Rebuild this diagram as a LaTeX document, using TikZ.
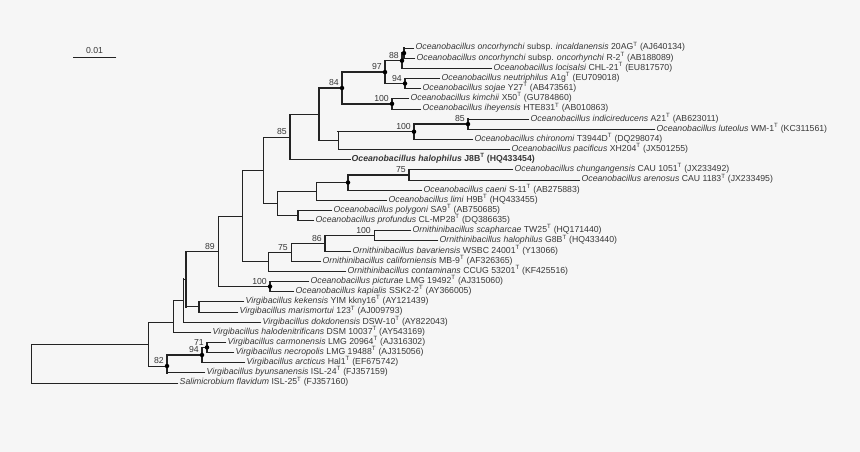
\documentclass[tikz,border=0pt]{standalone}
\usepackage{fontspec}
\setmainfont{Liberation Sans}
\usetikzlibrary{calc}
\definecolor{bgc}{RGB}{246,246,246}
\definecolor{lnc}{RGB}{35,35,35}
\definecolor{txc}{RGB}{55,55,55}
\newcommand{\spT}{\textsuperscript{T}}
\begin{document}
\begin{tikzpicture}[x=1pt,y=-1pt,
  leaf/.style={anchor=west,inner xsep=1.5pt,inner ysep=0pt,text height=6pt,text depth=2pt,font=\fontsize{8.7}{10}\selectfont,text=txc},
  brn/.style={draw=lnc,line width=0.8pt,line cap=rect},
  brk/.style={draw=lnc,line width=1.45pt,line cap=rect},
  bs/.style={anchor=south east,inner sep=0pt,font=\fontsize{8.7}{10}\selectfont,text=txc},
  dotn/.style={circle,fill=black,inner sep=0pt,minimum size=4.5pt}]
\fill[bgc] (0,0) rectangle (860,452);
\path[use as bounding box] (0,0) rectangle (860,452);
% leaves
\node[leaf] (L1) at (414,48.0) {\textit{Oceanobacillus oncorhynchi} subsp. \textit{incaldanensis} 20AG\spT{} (AJ640134)};
\node[leaf] (L2) at (415,58.15) {\textit{Oceanobacillus oncorhynchi} subsp. \textit{oncorhynchi} R-2\spT{} (AB188089)};
\node[leaf] (L3) at (492,68.3) {\textit{Oceanobacillus locisalsi} CHL-21\spT{} (EU817570)};
\node[leaf] (L4) at (440,78.45) {\textit{Oceanobacillus neutriphilus} A1g\spT{} (EU709018)};
\node[leaf] (L5) at (421,88.6) {\textit{Oceanobacillus sojae} Y27\spT{} (AB473561)};
\node[leaf] (L6) at (409,98.75) {\textit{Oceanobacillus kimchii} X50\spT{} (GU784860)};
\node[leaf] (L7) at (421,108.9) {\textit{Oceanobacillus iheyensis} HTE831\spT{} (AB010863)};
\node[leaf] (L8) at (529,119.05) {\textit{Oceanobacillus indicireducens} A21\spT{} (AB623011)};
\node[leaf] (L9) at (655,129.2) {\textit{Oceanobacillus luteolus} WM-1\spT{} (KC311561)};
\node[leaf] (L10) at (473,139.35) {\textit{Oceanobacillus chironomi} T3944D\spT{} (DQ298074)};
\node[leaf] (L11) at (510,149.5) {\textit{Oceanobacillus pacificus} XH204\spT{} (JX501255)};
\node[leaf] (L12) at (350,159.65) {\textbf{\textit{Oceanobacillus halophilus} J8B\spT{} (HQ433454)}};
\node[leaf] (L13) at (513,169.8) {\textit{Oceanobacillus chungangensis} CAU 1051\spT{} (JX233492)};
\node[leaf] (L14) at (580,179.95) {\textit{Oceanobacillus arenosus} CAU 1183\spT{} (JX233495)};
\node[leaf] (L15) at (422,190.1) {\textit{Oceanobacillus caeni} S-11\spT{} (AB275883)};
\node[leaf] (L16) at (387,200.25) {\textit{Oceanobacillus limi} H9B\spT{} (HQ433455)};
\node[leaf] (L17) at (332,210.4) {\textit{Oceanobacillus polygoni} SA9\spT{} (AB750685)};
\node[leaf] (L18) at (314,220.55) {\textit{Oceanobacillus profundus} CL-MP28\spT{} (DQ386635)};
\node[leaf] (L19) at (411,230.7) {\textit{Ornithinibacillus scapharcae} TW25\spT{} (HQ171440)};
\node[leaf] (L20) at (438,240.85) {\textit{Ornithinibacillus halophilus} G8B\spT{} (HQ433440)};
\node[leaf] (L21) at (351,251.0) {\textit{Ornithinibacillus bavariensis} WSBC 24001\spT{} (Y13066)};
\node[leaf] (L22) at (321,261.15) {\textit{Ornithinibacillus californiensis} MB-9\spT{} (AF326365)};
\node[leaf] (L23) at (346,271.3) {\textit{Ornithinibacillus contaminans} CCUG 53201\spT{} (KF425516)};
\node[leaf] (L24) at (309,281.45) {\textit{Oceanobacillus picturae} LMG 19492\spT{} (AJ315060)};
\node[leaf] (L25) at (294,291.6) {\textit{Oceanobacillus kapialis} SSK2-2\spT{} (AY366005)};
\node[leaf] (L26) at (244,301.75) {\textit{Virgibacillus kekensis} YIM kkny16\spT{} (AY121439)};
\node[leaf] (L27) at (238,311.9) {\textit{Virgibacillus marismortui} 123\spT{} (AJ009793)};
\node[leaf] (L28) at (261,322.05) {\textit{Virgibacillus dokdonensis} DSW-10\spT{} (AY822043)};
\node[leaf] (L29) at (211,332.2) {\textit{Virgibacillus halodenitrificans} DSM 10037\spT{} (AY543169)};
\node[leaf] (L30) at (226,342.35) {\textit{Virgibacillus carmonensis} LMG 20964\spT{} (AJ316302)};
\node[leaf] (L31) at (234,352.5) {\textit{Virgibacillus necropolis} LMG 19488\spT{} (AJ315056)};
\node[leaf] (L32) at (245,362.65) {\textit{Virgibacillus arcticus} Hal1\spT{} (EF675742)};
\node[leaf] (L33) at (205,372.8) {\textit{Virgibacillus byunsanensis} ISL-24\spT{} (FJ357159)};
\node[leaf] (L34) at (178,382.95) {\textit{Salimicrobium flavidum} ISL-25\spT{} (FJ357160)};
% internal nodes
\coordinate (nio) at (404,53.1);
\coordinate (n88) at (402,60.7);
\coordinate (n94a) at (405,83.5);
\coordinate (n97) at (385,72.1);
\coordinate (n100a) at (392,103.8);
\coordinate (n84) at (342,88);
\coordinate (n85b) at (468,124.1);
\coordinate (n100b) at (414,131.7);
\coordinate (npac) at (338,140.6);
\coordinate (nX) at (319,114.3);
\coordinate (n85) at (290,137);
\coordinate (n75a) at (409,174.9);
\coordinate (ncae) at (348,182.5);
\coordinate (nlim) at (316,191.4);
\coordinate (npol) at (298,215.5);
\coordinate (nZ) at (277,203.4);
\coordinate (nY) at (263,170.2);
\coordinate (n100c) at (374,235.8);
\coordinate (n86) at (325,243.4);
\coordinate (n75b) at (291,252.3);
\coordinate (ncon) at (268,261.8);
\coordinate (nW) at (242,216);
\coordinate (n100d) at (270,286.5);
\coordinate (n89) at (218,251.3);
\coordinate (nkek) at (199,306.8);
\coordinate (nP) at (186,279);
\coordinate (nQ) at (183.5,300.5);
\coordinate (nR) at (173,322);
\coordinate (n71) at (207,347.4);
\coordinate (n94b) at (202,355);
\coordinate (n82) at (167,366);
\coordinate (nS) at (148,344);
\coordinate (root) at (31,344);
% verticals
\foreach \p/\a/\b/\s in {nio/L1/L2/brk, n88/nio/L3/brk, n94a/L4/L5/brk, n97/n88/n94a/brk,
  n100a/L6/L7/brk, n84/n97/n100a/brk, n85b/L8/L9/brk, n100b/n85b/L10/brk, npac/n100b/L11/brn,
  nX/n84/npac/brk, n85/nX/L12/brk, n75a/L13/L14/brk, ncae/n75a/L15/brk, nlim/ncae/L16/brn,
  npol/L17/L18/brk, nZ/nlim/npol/brn, nY/n85/nZ/brn, n100c/L19/L20/brn, n86/n100c/L21/brk,
  n75b/n86/L22/brn, ncon/n75b/L23/brn, nW/nY/ncon/brn, n100d/L24/L25/brk, n89/nW/n100d/brn,
  nkek/L26/L27/brk, nP/n89/nkek/brk, nQ/nP/L28/brk, nR/nQ/L29/brn, n71/L30/L31/brk,
  n94b/n71/L32/brk, n82/n94b/L33/brk, nS/nR/n82/brn, root/nS/L34/brn}
  \draw[\s] (\p |- \a) -- (\p |- \b);
% horizontals to internal nodes
\foreach \p/\c/\s in {n88/nio/brk, n97/n88/brk, n97/n94a/brk, n84/n97/brk, n84/n100a/brk,
  n100b/n85b/brk, npac/n100b/brk, nX/n84/brk, nX/npac/brn, n85/nX/brk, ncae/n75a/brk,
  nlim/ncae/brn, nZ/nlim/brn, nZ/npol/brn, nY/n85/brn, nY/nZ/brn, n86/n100c/brn,
  n75b/n86/brn, ncon/n75b/brn, nW/nY/brn, nW/ncon/brn, n89/nW/brn, n89/n100d/brn,
  nP/n89/brn, nP/nkek/brn, nQ/nP/brn, nR/nQ/brn, n94b/n71/brk, n82/n94b/brk,
  nS/nR/brn, nS/n82/brn, root/nS/brn}
  \draw[\s] (\p |- \c) -- (\c);
% horizontals to leaves
\foreach \p/\c/\s in {nio/L1/brn, nio/L2/brn, n88/L3/brn, n94a/L4/brn, n94a/L5/brn,
  n100a/L6/brn, n100a/L7/brn, n85b/L8/brn, n85b/L9/brn, n100b/L10/brn, npac/L11/brn,
  n85/L12/brk, n75a/L13/brn, n75a/L14/brn, ncae/L15/brn, nlim/L16/brn, npol/L17/brn,
  npol/L18/brn, n100c/L19/brn, n100c/L20/brn, n86/L21/brn, n75b/L22/brn, ncon/L23/brn,
  n100d/L24/brn, n100d/L25/brn, nkek/L26/brn, nkek/L27/brn, nQ/L28/brn, nR/L29/brn,
  n71/L30/brn, n71/L31/brn, n94b/L32/brn, n82/L33/brn, root/L34/brn}
  \draw[\s] (\p |- \c.west) -- (\c.west);
% dots
\foreach \n in {nio,n88,n97,n94a,n84,n100a,n85b,n100b,ncae,n100d,n71,n94b,n82}
  \node[dotn] (d\n) at (\n) {};
% bootstrap values
\foreach \n/\t in {n88/88, n97/97, n94a/94, n84/84, n100a/100, n85b/85, n100b/100, n85/85,
  n75a/75, n100c/100, n86/86, n75b/75, n89/89, n100d/100, n71/71, n94b/94, n82/82}
  \node[bs] (b\n) at ([shift={(-3,-2)}]\n) {\t};
% scale bar
\coordinate (sb1) at (73,57);
\coordinate (sb2) at (116,57);
\draw[brn] (sb1) -- (sb2);
\node[bs,anchor=south] (sbl) at ([shift={(0,-3)}]$(sb1)!0.5!(sb2)$) {0.01};
\end{tikzpicture}
\end{document}
